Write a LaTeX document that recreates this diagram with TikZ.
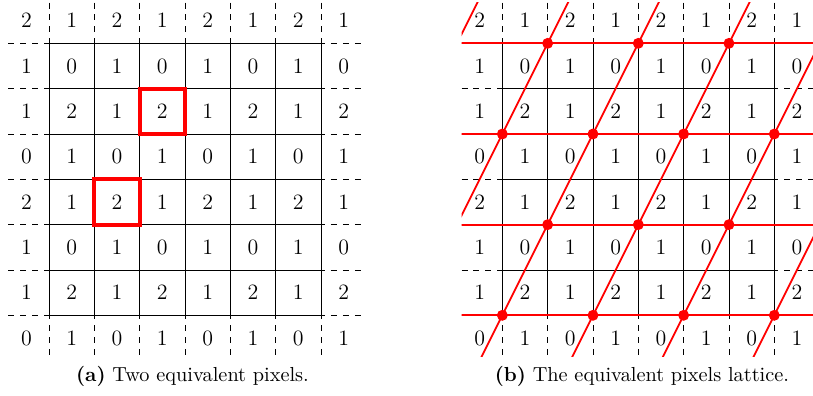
\documentclass[tikz,border=0pt]{standalone}
\begin{document}
\begin{tikzpicture}[x=0.8cm,y=-0.8cm,
    gridline/.style={line width=0.4pt},
    dashline/.style={dashed,line width=0.4pt},
    redbox/.style={red,line width=2pt},
    latline/.style={red,line width=0.9pt},
    latdot/.style={circle,fill=red,inner sep=0pt,minimum size=5.5pt},
    pixnum/.style={font=\fontsize{11}{13}\selectfont},
    subcap/.style={anchor=base,font=\fontsize{10.2}{12}\selectfont}]
    \useasboundingbox (-0.082,0.044) rectangle (17.854,8.78);

    % 两个网格
    \foreach \ox/\g in {0/a,10/b} {
    \begin{scope}[shift={(\ox,0)}]
        % 虚线延伸
        \foreach \i in {1,...,7} {
            \draw[dashline] (\i,0.1) -- (\i,7.9);
            \draw[dashline] (0.1,\i) -- (7.9,\i);
        }
        % 内部实线
        \foreach \i in {1,...,7} {
            \draw[gridline] (\i,1) -- (\i,7);
            \draw[gridline] (1,\i) -- (7,\i);
        }
        % 像素数值
        \foreach \r/\p/\q in {0/2/1,1/1/0,2/1/2,3/0/1,4/2/1,5/1/0,6/1/2,7/0/1} {
            \foreach \c in {0,2,4,6} {
                \node[pixnum] (\g-\r-\c) at (\c+0.5,\r+0.5) {\p};
                \node[pixnum] (\g-\r-\c-odd) at (\c+1.5,\r+0.5) {\q};
            }
        }
    \end{scope}
    }

    % 两个等价像素
    \draw[redbox] (3,2) rectangle (4,3);
    \draw[redbox] (2,4) rectangle (3,5);

    % 等价像素格点
    \begin{scope}[shift={(10,0)}]
        \begin{scope}
            \clip (0.1,0.1) rectangle (7.9,7.9);
            \foreach \j in {1,3,5,7}
                \draw[latline] (0,\j) -- (8,\j);
            \foreach \c in {0.5,2.5,4.5,6.5,8.5,10.5}
                \draw[latline] (\c,0) -- (\c-4,8);
        \end{scope}
        \foreach \x/\y in {2/1,4/1,6/1,1/3,3/3,5/3,7/3,2/5,4/5,6/5,1/7,3/7,5/7,7/7}
            \node[latdot] (p-\x-\y) at (\x,\y) {};
    \end{scope}

    % 子图标题
    \node[subcap] (capa) at (4.165,8.46) {\textbf{(a)} Two equivalent pixels.};
    \node[subcap] (capb) at (14.08,8.46) {\textbf{(b)} The equivalent pixels lattice.};
\end{tikzpicture}
\end{document}
